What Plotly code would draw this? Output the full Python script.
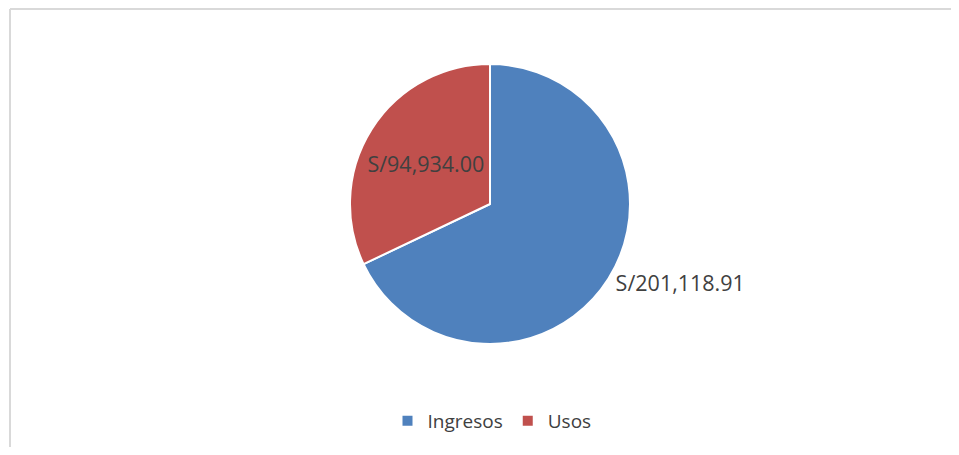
import plotly.graph_objects as go

categories = ["Ingresos", "Usos"]
values = [201118.91, 94934.00]
value_labels = ["S/201,118.91", "S/94,934.00"]
colors = ["#4F81BD", "#C0504D"]

# page has an 8px body margin; figure sized to fit the window
OFF = 8
W, H = 943, 439
cx, cy, r = 490 - OFF, 204 - OFF, 140

fig = go.Figure()
fig.add_trace(go.Pie(
    labels=categories,
    values=values,
    text=value_labels,
    texttemplate="%{text}",
    textposition=["outside", "inside"],
    insidetextorientation="horizontal",
    textfont=dict(family="Open Sans", size=21.5, color="#404040"),
    marker=dict(colors=colors, line=dict(color="white", width=2)),
    sort=False,
    direction="clockwise",
    rotation=0,
    hole=0,
    domain=dict(x=[(cx - r) / W, (cx + r) / W], y=[1 - (cy + r) / H, 1 - (cy - r) / H]),
    showlegend=True,
))

bx = (10 - OFF) / W
by = 1 - (9 - OFF) / H
fig.add_shape(type="line", xref="paper", yref="paper", x0=bx, x1=bx, y0=0, y1=by,
              line=dict(color="#D9D9D9", width=2), layer="below")
fig.add_shape(type="line", xref="paper", yref="paper", x0=bx, x1=1.0, y0=by, y1=by,
              line=dict(color="#D9D9D9", width=2), layer="below")

fig.update_layout(
    width=W, height=H,
    margin=dict(l=0, r=0, t=0, b=0),
    paper_bgcolor="white",
    plot_bgcolor="white",
    font=dict(family="Open Sans", color="#404040"),
    legend=dict(orientation="h", x=(492 - OFF) / W, xanchor="center", y=1 - (421 - OFF) / H, yanchor="middle",
                font=dict(family="Open Sans", size=19, color="#404040"),
                itemsizing="constant"),
)

fig.write_html("out.html")
